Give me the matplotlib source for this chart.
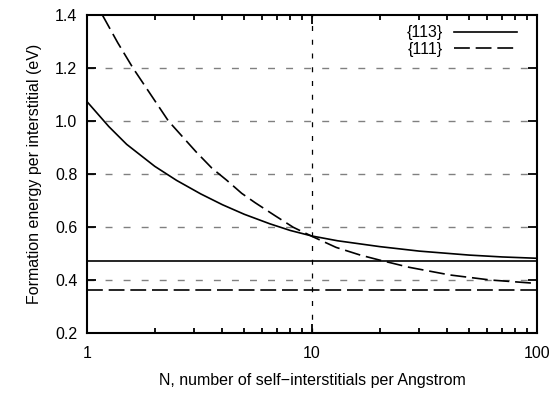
import matplotlib
matplotlib.use("Agg")
from matplotlib import pyplot as plt
from matplotlib.ticker import LogLocator, FixedLocator, NullFormatter, FixedFormatter

plt.rcParams["font.family"] = ["Liberation Sans", "DejaVu Sans"]

# {113} defect: energy vs cluster length
n_113 = [1, 1.25, 1.5, 2, 2.5, 3.2, 4, 5, 6.5, 8, 10, 13, 20, 30, 50, 70, 100]
e_113 = [1.073, 0.979, 0.912, 0.829, 0.776, 0.725, 0.684, 0.648, 0.612, 0.587,
         0.566, 0.548, 0.526, 0.509, 0.494, 0.487, 0.482]

# {111} defect
n_111 = [1.17, 1.37, 1.6, 2.3, 3.05, 3.59, 4.17, 4.87, 5.58, 6.84, 8.25, 10.1,
         12.8, 16.4, 20, 27, 41, 62, 100]
e_111 = [1.40, 1.295, 1.20, 1.00, 0.884, 0.822, 0.777, 0.727, 0.692, 0.643, 0.599,
         0.563, 0.523, 0.494, 0.475, 0.448, 0.419, 0.400, 0.387]

# large-N limits
e_inf_113 = 0.472
e_inf_111 = 0.362

y_ticks = [0.2, 0.4, 0.6, 0.8, 1.0, 1.2, 1.4]
x_ticks = [1, 10, 100]

fig = plt.figure(figsize=(5.55, 3.97), dpi=100)
ax = fig.add_axes([0.1568, 0.1612, 0.8108, 0.801])

dash = (9.5, 3.5)
ax.plot(n_113, e_113, color="black", lw=1.2, label="{113}")
ax.plot(n_111, e_111, color="black", lw=1.2, dashes=dash, label="{111}")
ax.axhline(e_inf_113, color="black", lw=1.2)
ax.axhline(e_inf_111, color="black", lw=1.2, dashes=dash)

# grid
for y in y_ticks[1:-1]:
    ax.axhline(y, color="#808080", lw=1.0, dashes=(5, 8), zorder=0)
ax.axvline(10, color="black", lw=0.9, dashes=(4, 7), zorder=0)

ax.set_xscale("log")
ax.set_xlim(1, 100)
ax.set_ylim(0.2, 1.4)

ax.xaxis.set_major_locator(FixedLocator(x_ticks))
ax.xaxis.set_major_formatter(FixedFormatter([str(v) for v in x_ticks]))
ax.xaxis.set_minor_locator(LogLocator(base=10, subs=range(2, 10)))
ax.xaxis.set_minor_formatter(NullFormatter())
ax.set_yticks(y_ticks)
ax.set_yticklabels(["%.1f" % v for v in y_ticks])

ax.tick_params(which="both", direction="in", top=True, right=True,
               labelsize=11.5, color="black", width=1.3)
ax.tick_params(which="major", length=6.5)
ax.tick_params(which="minor", length=3.5)
ax.tick_params(axis="x", which="major", pad=9)
ax.tick_params(axis="y", which="major", pad=7)

for s in ax.spines.values():
    s.set_linewidth(1.5)

ax.set_xlabel("N, number of self\u2212interstitials per Angstrom", fontsize=11.5, labelpad=9)
ax.set_ylabel("Formation energy per interstitial (eV)", fontsize=11.5, labelpad=9)

ax.legend(loc="upper right", bbox_to_anchor=(0.955, 0.968), frameon=False,
          markerfirst=False, fontsize=11.5, handlelength=3.9, handletextpad=0.75,
          labelspacing=0.1, borderpad=0, borderaxespad=0)

fig.savefig("out.png", dpi=100)
